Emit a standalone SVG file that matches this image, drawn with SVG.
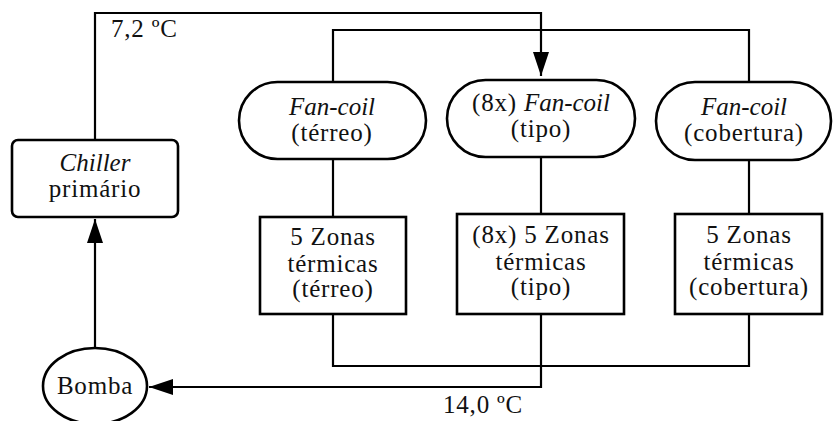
<svg xmlns="http://www.w3.org/2000/svg" width="835" height="421" viewBox="0 0 835 421">
<style>
.ln{fill:none;stroke:#000;stroke-width:2.2}
.nd{fill:#fff;stroke:#000;stroke-width:2.6}
text{font-size:25px;fill:#111;text-anchor:middle;letter-spacing:0.8px}
.it{font-style:italic;letter-spacing:0}
.lb{text-anchor:start}
</style>
<defs>
<marker id="ah" markerUnits="userSpaceOnUse" markerWidth="26" markerHeight="18" refX="24" refY="8" orient="auto">
<path d="M0,0 L24,8 L0,16 Z" fill="#000"/>
</marker>
</defs>
<g id="connectors">
<path class="ln" d="M95,140 V13 H541 V76" marker-end="url(#ah)"/>
<path class="ln" d="M333,82 V30 H749 V82"/>
<path class="ln" d="M333,159 V217"/>
<path class="ln" d="M541,157 V214"/>
<path class="ln" d="M749,160 V214"/>
<path class="ln" d="M333,314 V366 H749 V314"/>
<path class="ln" d="M541,314 V387 H149" marker-end="url(#ah)"/>
<path class="ln" d="M95,348 V219" marker-end="url(#ah)"/>
</g>
<g font-family="Liberation Serif">
<g id="chiller">
<rect class="nd" x="12" y="140" width="166" height="77" rx="6"/>
<text x="95" y="171"><tspan class="it">Chiller</tspan></text>
<text x="95" y="197">primário</text>
</g>
<g id="bomba">
<ellipse class="nd" cx="95" cy="386" rx="52" ry="38"/>
<text x="95" y="394">Bomba</text>
</g>
<g id="fc-terreo">
<rect class="nd" x="239" y="82" width="187" height="77" rx="38.5"/>
<text x="332" y="115" class="it">Fan-coil</text>
<text x="332" y="141">(térreo)</text>
</g>
<g id="fc-tipo">
<rect class="nd" x="447" y="80" width="188" height="77" rx="38.5"/>
<text x="541" y="111">(8x) <tspan class="it">Fan-coil</tspan></text>
<text x="541" y="137">(tipo)</text>
</g>
<g id="fc-cobertura">
<rect class="nd" x="656" y="82" width="175" height="78" rx="39"/>
<text x="744" y="115" class="it">Fan-coil</text>
<text x="744" y="141">(cobertura)</text>
</g>
<g id="zonas-terreo">
<rect class="nd" x="260" y="217" width="146" height="97"/>
<text x="333" y="245">5 Zonas</text>
<text x="333" y="272">térmicas</text>
<text x="333" y="297">(térreo)</text>
</g>
<g id="zonas-tipo">
<rect class="nd" x="457" y="214" width="167" height="100"/>
<text x="541" y="243">(8x) 5 Zonas</text>
<text x="541" y="270">térmicas</text>
<text x="541" y="295">(tipo)</text>
</g>
<g id="zonas-cobertura">
<rect class="nd" x="675" y="214" width="147" height="100"/>
<text x="749" y="243">5 Zonas</text>
<text x="749" y="270">térmicas</text>
<text x="749" y="295">(cobertura)</text>
</g>
<g id="labels">
<text class="lb" x="111" y="37">7,2 ºC</text>
<text class="lb" x="443" y="413">14,0 ºC</text>
</g>
</g>
</svg>
